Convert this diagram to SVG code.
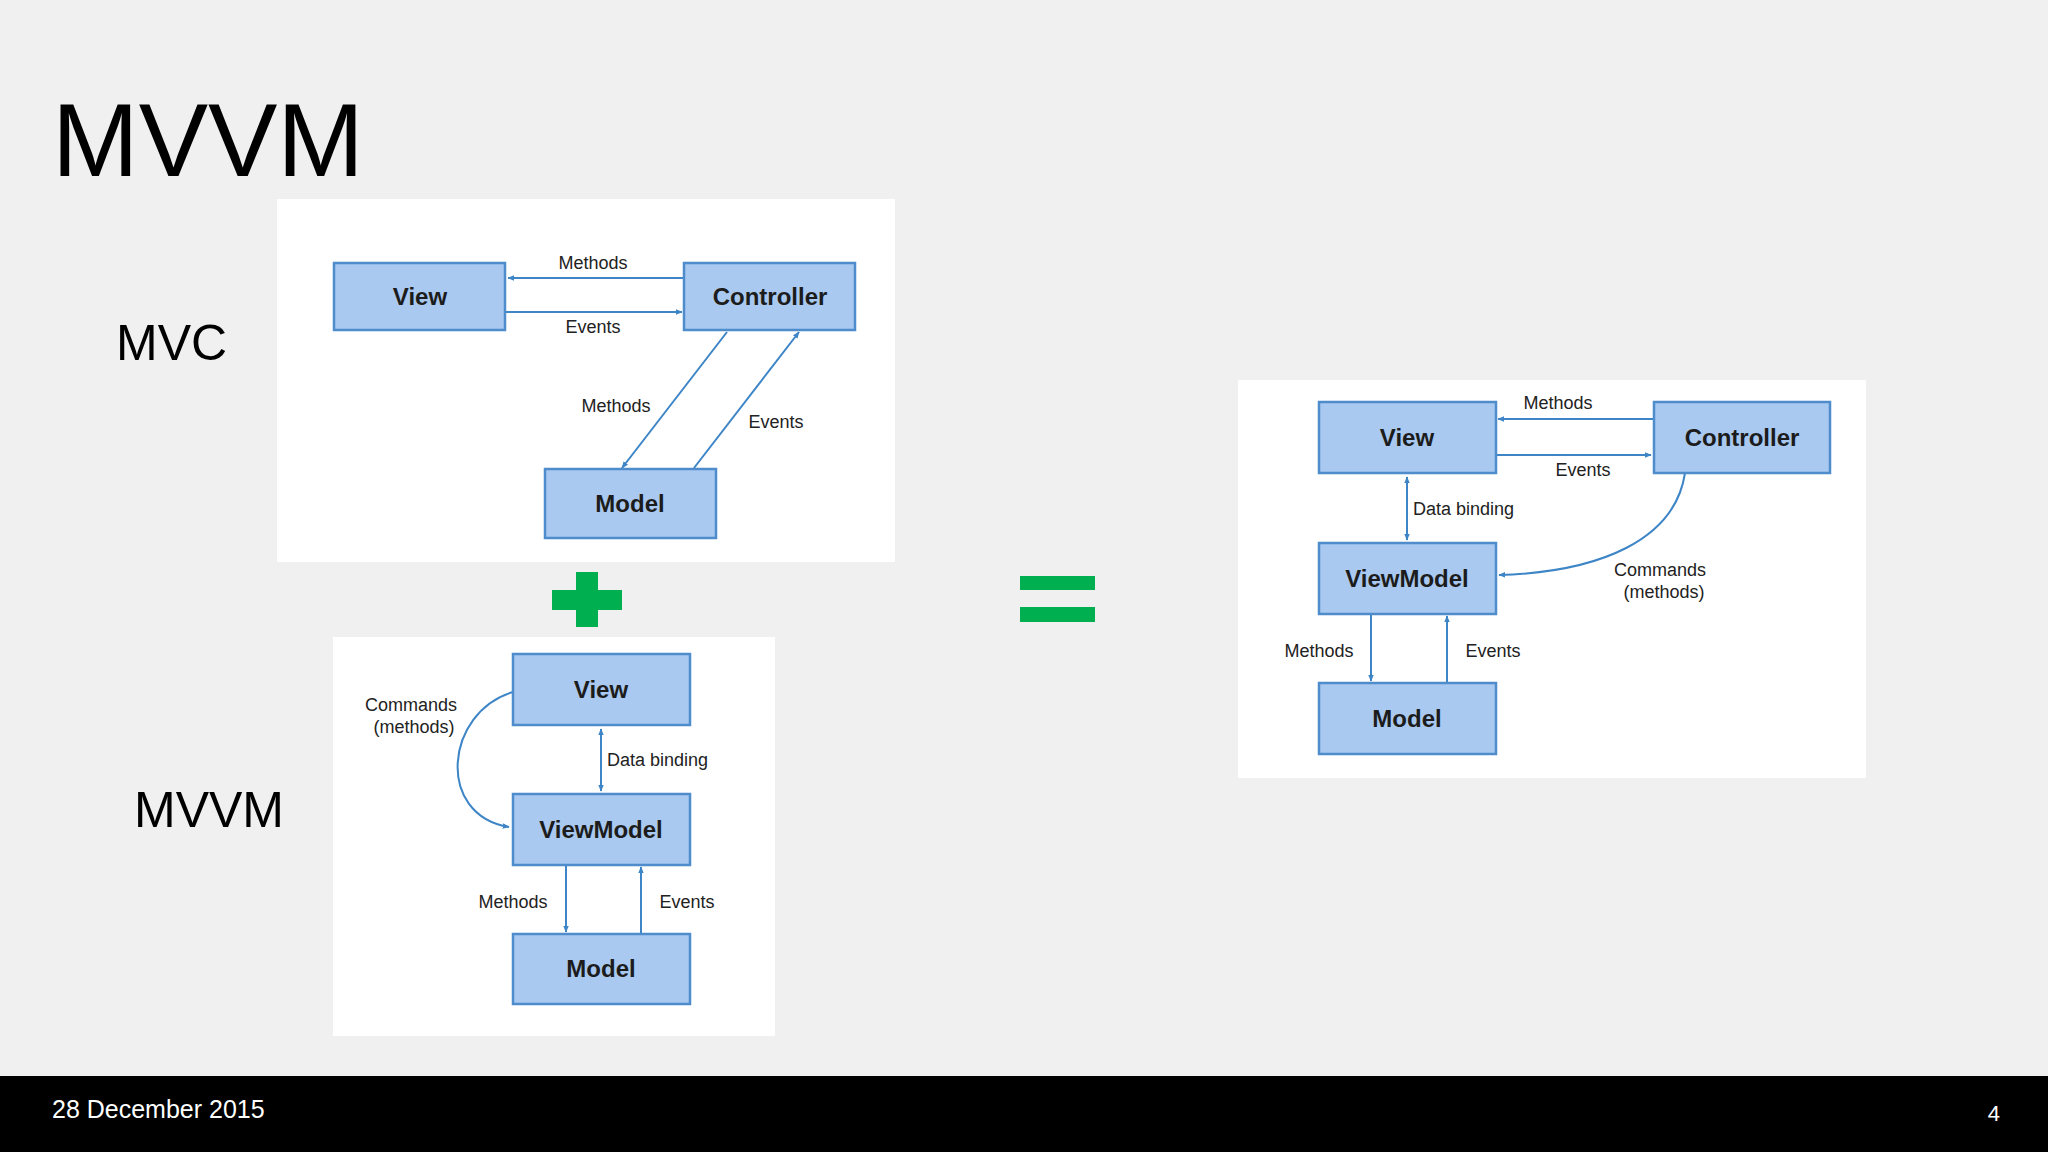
<svg xmlns="http://www.w3.org/2000/svg" width="2048" height="1152" viewBox="0 0 2048 1152">
<style>
.box{fill:#a9c9f0;stroke:#4f8ccc;stroke-width:2.5}
.bt{font-family:"Liberation Sans",Arial,sans-serif;font-weight:bold;font-size:24px;fill:#1c1c1c;text-anchor:middle}
.lb{font-family:"Liberation Sans",Arial,sans-serif;font-size:18px;fill:#222}
.c{text-anchor:middle}
.ar{stroke:#3d85c6;stroke-width:2;fill:none;marker-end:url(#ah)}
.ar2{stroke:#3d85c6;stroke-width:2;fill:none;marker-end:url(#ah);marker-start:url(#as)}
.big{font-family:"Liberation Sans",Arial,sans-serif;fill:#000}
.panel{fill:#fff}
</style>
<defs>
<marker id="ah" viewBox="0 0 10 10" refX="9" refY="5" markerWidth="7" markerHeight="7" orient="auto" markerUnits="userSpaceOnUse"><path d="M0,1 L10,5 L0,9 z" fill="#3d85c6"/></marker>
<marker id="as" viewBox="0 0 10 10" refX="1" refY="5" markerWidth="7" markerHeight="7" orient="auto" markerUnits="userSpaceOnUse"><path d="M10,1 L0,5 L10,9 z" fill="#3d85c6"/></marker>
</defs>
<rect width="2048" height="1152" fill="#f0f0f0"/>
<text x="52" y="176" class="big" font-size="104">MVVM</text>
<text x="116" y="360" class="big" font-size="50">MVC</text>
<text x="134" y="827" class="big" font-size="50">MVVM</text>

<rect class="panel" x="277" y="199" width="618" height="363"/>
<rect class="panel" x="333" y="637" width="442" height="399"/>
<rect class="panel" x="1238" y="380" width="628" height="398"/>

<g id="plus" fill="#00b050"><rect x="552" y="590" width="70" height="20"/><rect x="576" y="572" width="22" height="55"/></g>
<g id="equals" fill="#00b050"><rect x="1020" y="576" width="75" height="14"/><rect x="1020" y="607" width="75" height="15"/></g>

<g id="connectors">
<line class="ar" x1="684" y1="278" x2="508" y2="278"/>
<line class="ar" x1="505" y1="312" x2="682" y2="312"/>
<line class="ar" x1="727" y1="332" x2="622" y2="468"/>
<line class="ar" x1="694" y1="468" x2="799" y2="332"/>
<line class="ar2" x1="601" y1="729" x2="601" y2="791"/>
<line class="ar" x1="566" y1="865" x2="566" y2="932"/>
<line class="ar" x1="641" y1="934" x2="641" y2="867"/>
<path class="ar" d="M513,692 C445,712 435,815 509,827"/>
<line class="ar" x1="1654" y1="419" x2="1498" y2="419"/>
<line class="ar" x1="1496" y1="455" x2="1651" y2="455"/>
<line class="ar2" x1="1407" y1="477" x2="1407" y2="540"/>
<path class="ar" d="M1685,473 C1675,540 1600,572 1499,575"/>
<line class="ar" x1="1371" y1="614" x2="1371" y2="681"/>
<line class="ar" x1="1447" y1="683" x2="1447" y2="616"/>
<text class="lb c" x="593" y="269">Methods</text>
<text class="lb c" x="593" y="333">Events</text>
<text class="lb c" x="616" y="412">Methods</text>
<text class="lb c" x="776" y="428">Events</text>
<text class="lb" x="607" y="766">Data binding</text>
<text class="lb c" x="513" y="908">Methods</text>
<text class="lb c" x="687" y="908">Events</text>
<text class="lb c" x="411" y="711">Commands</text>
<text class="lb c" x="414" y="733">(methods)</text>
<text class="lb c" x="1558" y="409">Methods</text>
<text class="lb c" x="1583" y="476">Events</text>
<text class="lb" x="1413" y="515">Data binding</text>
<text class="lb c" x="1660" y="576">Commands</text>
<text class="lb c" x="1664" y="598">(methods)</text>
<text class="lb c" x="1319" y="657">Methods</text>
<text class="lb c" x="1493" y="657">Events</text>
</g>

<g id="mvc-view"><rect class="box" x="334" y="263" width="171" height="67"/><text class="bt" x="420" y="305">View</text></g>
<g id="mvc-controller"><rect class="box" x="684" y="263" width="171" height="67"/><text class="bt" x="770" y="305">Controller</text></g>
<g id="mvc-model"><rect class="box" x="545" y="469" width="171" height="69"/><text class="bt" x="630" y="512">Model</text></g>

<g id="mvvm-view"><rect class="box" x="513" y="654" width="177" height="71"/><text class="bt" x="601" y="698">View</text></g>
<g id="mvvm-viewmodel"><rect class="box" x="513" y="794" width="177" height="71"/><text class="bt" x="601" y="838">ViewModel</text></g>
<g id="mvvm-model"><rect class="box" x="513" y="934" width="177" height="70"/><text class="bt" x="601" y="977">Model</text></g>

<g id="r-view"><rect class="box" x="1319" y="402" width="177" height="71"/><text class="bt" x="1407" y="446">View</text></g>
<g id="r-controller"><rect class="box" x="1654" y="402" width="176" height="71"/><text class="bt" x="1742" y="446">Controller</text></g>
<g id="r-viewmodel"><rect class="box" x="1319" y="543" width="177" height="71"/><text class="bt" x="1407" y="587">ViewModel</text></g>
<g id="r-model"><rect class="box" x="1319" y="683" width="177" height="71"/><text class="bt" x="1407" y="727">Model</text></g>

<rect x="0" y="1076" width="2048" height="76" fill="#000"/>
<text x="52" y="1118" class="big" font-size="25" fill="#fff" style="fill:#fff">28 December 2015</text>
<text x="2000" y="1121" class="big" font-size="22" text-anchor="end" style="fill:#fff">4</text>
</svg>
